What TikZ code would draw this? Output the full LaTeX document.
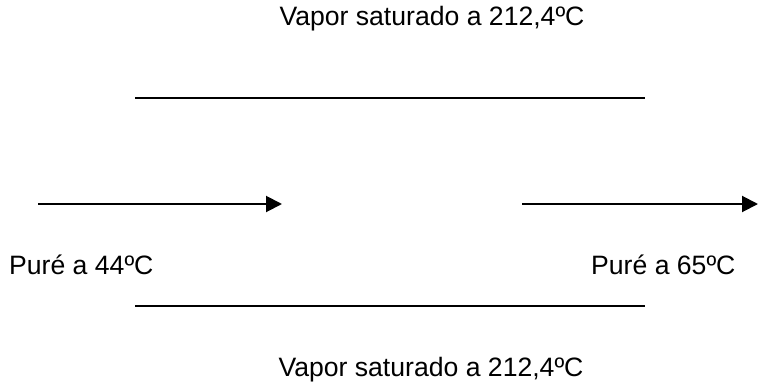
\documentclass[tikz,border=0pt]{standalone}
\usepackage{fontspec}
\setmainfont{Liberation Sans}
\usetikzlibrary{arrows.meta}
\begin{document}
\begin{tikzpicture}[x=1pt,y=-1pt,
  label text/.style={font=\fontsize{26.6}{30}\selectfont, inner sep=0pt},
  wall/.style={line width=2pt},
  flow/.style={line width=2pt, -{Triangle[length=16pt,width=16pt]}}]
  \useasboundingbox (0,0) rectangle (758,383);
  % steam labels
  \node[label text, anchor=base] (steamtop) at (432,25) {Vapor saturado a 212,4ºC};
  \node[label text, anchor=base] (steambot) at (431,376) {Vapor saturado a 212,4ºC};
  % tube walls
  \coordinate (wt1) at (135,98);
  \coordinate (wt2) at (645,98);
  \coordinate (wb1) at (135,306);
  \coordinate (wb2) at (645,306);
  \draw[wall] (wt1) -- (wt2);
  \draw[wall] (wb1) -- (wb2);
  % product flow in and out
  \coordinate (in1) at (38,204);
  \coordinate (in2) at (282,204);
  \coordinate (out1) at (522,204);
  \coordinate (out2) at (758,204);
  \draw[flow] (in1) -- (in2);
  \draw[flow] (out1) -- (out2);
  % product labels
  \node[label text, anchor=base west] (purein) at (9,274) {Puré a 44ºC};
  \node[label text, anchor=base west] (pureout) at (591,274) {Puré a 65ºC};
\end{tikzpicture}
\end{document}
